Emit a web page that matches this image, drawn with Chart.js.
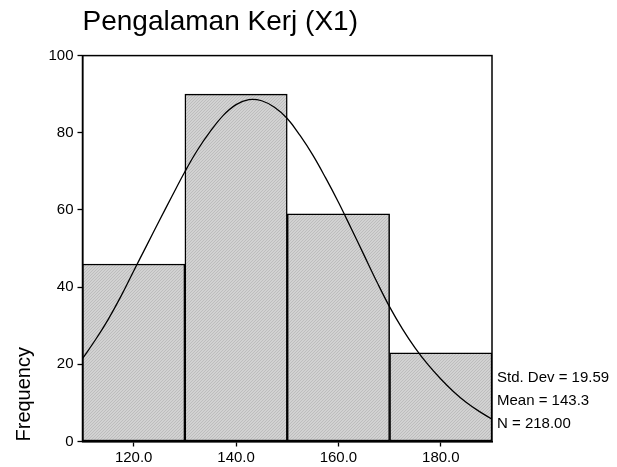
<!DOCTYPE html>
<html><head><meta charset="utf-8">
<script src="https://cdn.jsdelivr.net/npm/chart.js@4"></script>
<style>html,body{margin:0;padding:0;background:#fff}#wrap{width:617px;height:467px;position:relative}</style>
</head><body><div id="wrap"><canvas id="c" width="617" height="467"></canvas></div>
<script>
const chartTitle = 'Pengalaman Kerj (X1)';
const axisTitleY = 'Frequency';
const binMidpoints = [120, 140, 160, 180];
const frequencies = [46, 90, 59, 23];
const curveX = [110,112.5,115,117.5,120,122.5,125,127.5,130,132.5,135,137.5,140,142.5,145,147.5,150,152.5,155,157.5,160,162.5,165,167.5,170,172.5,175,177.5,180,182.5,185,187.5,190];
const curveY = [21.5,26.3,31.6,37.6,44.2,50.7,57.2,63.6,69.9,75.6,80.4,84.5,87.3,88.6,88.3,86.6,83.7,79.3,74.2,68.3,62.0,55.2,48.3,41.4,34.9,29.2,24.2,19.9,16.2,12.9,10.1,7.8,5.8];
const xTickValues = [120, 140, 160, 180];
const xTickLabels = ['120.0', '140.0', '160.0', '180.0'];
const yTickValues = [0, 20, 40, 60, 80, 100];
const yTickLabels = ['0', '20', '40', '60', '80', '100'];
const statsLines = ['Std. Dev = 19.59', 'Mean = 143.3', 'N = 218.00'];
const xRange = [110, 190];
const yRange = [0, 100];

const FONT = '"Liberation Sans", Arial, Helvetica, sans-serif';
const canvas = document.getElementById('c');
const mainCtx = canvas.getContext('2d');

function hatchPattern() {
  const p = document.createElement('canvas');
  p.width = 3; p.height = 3;
  const g = p.getContext('2d');
  g.fillStyle = '#d2d2d2'; g.fillRect(0, 0, 3, 3);
  g.fillStyle = '#bdbdbd';
  g.fillRect(0, 2, 1, 1); g.fillRect(1, 1, 1, 1); g.fillRect(2, 0, 1, 1);
  return mainCtx.createPattern(p, 'repeat');
}

const framePlugin = {
  id: 'frame',
  afterDatasetsDraw(chart) {
    const {ctx, chartArea: a} = chart;
    ctx.save();
    ctx.strokeStyle = '#000'; ctx.lineWidth = 1.5;
    ctx.strokeRect(a.left, a.top, a.right - a.left, a.bottom - a.top);
    ctx.restore();
  }
};
const statsPlugin = {
  id: 'stats',
  afterDraw(chart) {
    const {ctx, chartArea: a} = chart;
    ctx.save();
    ctx.fillStyle = '#000';
    ctx.font = '15px ' + FONT;
    ctx.textAlign = 'left'; ctx.textBaseline = 'alphabetic';
    const offs = [60, 36.5, 13.5];
    statsLines.forEach((t, i) => ctx.fillText(t, a.right + 5, a.bottom - offs[i]));
    ctx.restore();
  }
};

new Chart(canvas, {
  type: 'bar',
  data: {
    datasets: [
      {
        type: 'line',
        data: curveX.map((x, i) => ({x: x, y: curveY[i]})),
        borderColor: '#000', borderWidth: 1.3, pointRadius: 0, tension: 0.4,
        fill: false, order: 0
      },
      {
        type: 'bar',
        data: binMidpoints.map((x, i) => ({x: x, y: frequencies[i]})),
        backgroundColor: hatchPattern(), borderColor: '#000', borderWidth: 1.5,
        borderSkipped: false, barPercentage: 1, categoryPercentage: 1, order: 1
      }
    ]
  },
  options: {
    responsive: false, animation: false,
    layout: {padding: {left: 0, right: 125, top: 0, bottom: 0}},
    plugins: {
      legend: {display: false}, tooltip: {enabled: false},
      title: {
        display: true, text: chartTitle, align: 'start', fullSize: false, color: '#000',
        font: {family: FONT, size: 28, weight: 'normal', lineHeight: 1.2},
        padding: {top: 5, bottom: 17}
      }
    },
    scales: {
      x: {
        type: 'linear', min: xRange[0], max: xRange[1], offset: false,
        afterBuildTicks: s => { s.ticks = xTickValues.map(v => ({value: v})); },
        afterFit: s => { s.height = 25.5; },
        ticks: {
          callback: v => xTickLabels[xTickValues.indexOf(v)],
          color: '#000', font: {family: FONT, size: 15}, padding: 2, maxRotation: 0, autoSkip: false
        },
        grid: {drawOnChartArea: false, offset: false, tickLength: 5, color: '#000', tickWidth: 1.3},
        border: {color: '#000', width: 1.5}
      },
      y: {
        type: 'linear', min: yRange[0], max: yRange[1],
        afterBuildTicks: s => { s.ticks = yTickValues.map(v => ({value: v})); },
        afterFit: s => { s.width = 82.5; },
        ticks: {
          callback: v => yTickLabels[yTickValues.indexOf(v)],
          color: '#000', font: {family: FONT, size: 15}, padding: 4, autoSkip: false
        },
        grid: {drawOnChartArea: false, tickLength: 5, color: '#000', tickWidth: 1.3},
        border: {color: '#000', width: 1.5},
        title: {
          display: true, text: axisTitleY, align: 'start', color: '#000',
          font: {family: FONT, size: 20}, padding: {top: 12, bottom: 0}
        }
      }
    }
  },
  plugins: [framePlugin, statsPlugin]
});
</script>
</body></html>
